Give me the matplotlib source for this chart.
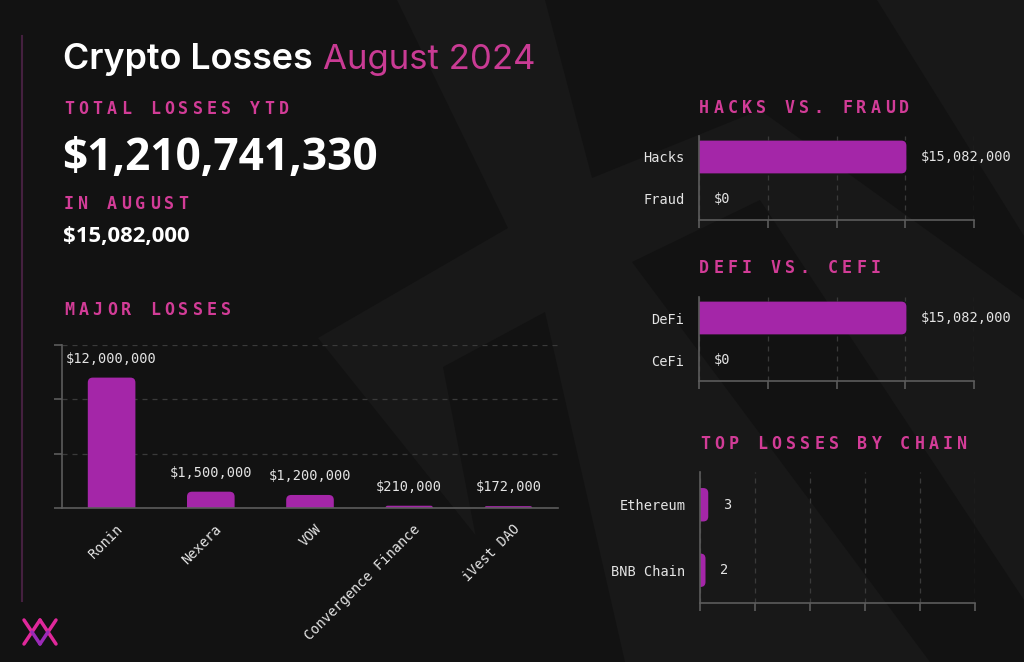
import matplotlib.pyplot as plt
from matplotlib.patches import FancyBboxPatch, Polygon, BoxStyle
from matplotlib.lines import Line2D
from matplotlib.transforms import ScaledTranslation

# headline numbers
ytd_total = "$1,210,741,330"
august_total = "$15,082,000"

# major losses (USD)
major_names = ["Ronin", "Nexera", "VOW", "Convergence Finance", "iVest DAO"]
major_values = [12_000_000, 1_500_000, 1_200_000, 210_000, 172_000]

# hacks vs fraud
type_names = ["Hacks", "Fraud"]
type_values = [15_082_000, 0]

# defi vs cefi
sector_names = ["DeFi", "CeFi"]
sector_values = [15_082_000, 0]

# top losses by chain (number of incidents)
chain_names = ["Ethereum", "BNB Chain"]
chain_counts = [3, 2]

W, H = 1024, 662
BG = '#121212'
SHADE = '#181818'
PINK = '#d23c97'
BAR = '#a426a8'
AXIS = '#5c5c5c'
GRID = '#3a3a3a'
TXT = '#e4e4e4'
MONO = 'DejaVu Sans Mono'


def fx(x):
    return x / W


def fy(y):
    return 1 - y / H


fig = plt.figure(figsize=(W / 100, H / 100), dpi=100, facecolor=BG)

# faint background shapes
for pts, col in [
    ([(397, 0), (1024, 0), (1024, 662), (577, 662), (318, 338), (508, 228)], SHADE),
    ([(443, 367), (545, 312), (625, 662), (500, 662)], BG),
    ([(545, 0), (877, 0), (1024, 236), (1024, 300), (760, 110), (592, 178)], BG),
    ([(632, 262), (760, 200), (1024, 600), (1024, 662), (930, 662)], BG),
]:
    fig.add_artist(Polygon([(fx(x), fy(y)) for x, y in pts], closed=True,
                           facecolor=col, edgecolor='none',
                           transform=fig.transFigure, zorder=-2))

# left accent line
fig.add_artist(Line2D([fx(22), fx(22)], [fy(36), fy(601)], color='#44203f',
                      lw=1.5, transform=fig.transFigure))

# logo
for (x0, y0), (x1, y1), c in [((24, 620), (32, 632), '#e0289b'), ((24, 644), (32, 632), '#e0289b'),
                              ((56, 620), (48, 632), '#e0289b'), ((56, 644), (48, 632), '#e0289b'),
                              ((32, 632), (40, 620), '#e0289b'), ((32, 632), (40, 644), '#9b2ab8'),
                              ((48, 632), (40, 620), '#e0289b'), ((48, 632), (40, 644), '#9b2ab8')]:
    fig.add_artist(Line2D([fx(x0), fx(x1)], [fy(y0), fy(y1)], color=c,
                          lw=2.5, solid_capstyle='round', transform=fig.transFigure))


def spaced(x, y, s, pitch=14.3, size=12):
    # letter-spaced heading, one glyph per slot
    for i, ch in enumerate(s):
        fig.text(fx(x + 5 + i * pitch), fy(y), ch, ha='center', va='center',
                 family=MONO, weight='bold', size=size, color=PINK)


def axes_px(left, top, right, bottom):
    ax = fig.add_axes([fx(left), fy(bottom), (right - left) / W, (bottom - top) / H])
    ax.set_facecolor('none')
    for s in ['top', 'right']:
        ax.spines[s].set_visible(False)
    for s in ['left', 'bottom']:
        ax.spines[s].set_color(AXIS)
        ax.spines[s].set_linewidth(1.2)
    return ax


def round_bars(ax, bars, horizontal=False, r=5):
    (x0, y0), (x1, y1) = ax.transData.transform([(0, 0), (1, 1)])
    ux, uy = abs(x1 - x0), abs(y1 - y0)
    for b in bars:
        x, y, w, h = b.get_x(), b.get_y(), b.get_width(), b.get_height()
        b.set_visible(False)
        if w == 0 or h == 0:
            continue
        if horizontal:
            rr = min(r, w * ux, h * uy / 2)
            x, w = x - rr / ux, w + rr / ux
        else:
            rr = min(r, w * ux / 2, h * uy)
            y, h = y - rr / uy, h + rr / uy
        p = FancyBboxPatch((x, y), w, h,
                           boxstyle=BoxStyle.Round(pad=0, rounding_size=rr / ux),
                           mutation_aspect=ux / uy, facecolor=BAR,
                           edgecolor='none', zorder=2)
        ax.add_patch(p)


# title
t1 = fig.text(fx(63), fy(69.5), "Crypto Losses", family='Inter', weight='semibold',
              size=25.8, color='white', va='baseline', ha='left')
fig.canvas.draw()
bb = t1.get_window_extent()
fig.text((bb.x1 + 10) / W, fy(69.5), "August 2024", family='Inter', weight='normal',
         size=25, color='#c93b94', va='baseline', ha='left')

spaced(64, 108.5, "TOTAL LOSSES YTD")
fig.text(fx(62), fy(170), ytd_total, family='Open Sans', weight='bold', size=31.8,
         color='white', va='baseline')
spaced(64, 203.7, "IN AUGUST")
fig.text(fx(63), fy(241.7), august_total, family='Open Sans', weight='bold', size=15.9,
         color='white', va='baseline')

# major losses
spaced(64, 310, "MAJOR LOSSES")
ax = axes_px(62, 345, 558, 508)
ax.set_xlim(-0.5, len(major_names) - 0.5)
ax.set_ylim(0, 15_000_000)
ax.set_yticks([0, 5_000_000, 10_000_000, 15_000_000])
ax.set_yticklabels([])
ax.yaxis.grid(True, color=GRID, lw=0.9, linestyle=(0, (4, 4)))
ax.set_axisbelow(True)
ax.tick_params(axis='y', length=6, color=AXIS, width=1.2)
bars = ax.bar(range(len(major_names)), major_values, width=0.48, color=BAR)
round_bars(ax, bars)
ax.set_xticks(range(len(major_names)))
ax.set_xticklabels(major_names, rotation=45, ha='right', va='top',
                   rotation_mode='anchor', family=MONO, size=9.8, color=TXT)
ax.tick_params(axis='x', length=0, pad=10)
for lab in ax.get_xticklabels():
    lab.set_transform(lab.get_transform() + ScaledTranslation(0.04, 0, fig.dpi_scale_trans))
for i, v in enumerate(major_values):
    ax.annotate(f"${v:,}", (i, v), xytext=(0, 13.7), textcoords='offset points',
                ha='center', va='center', family=MONO, size=9.8, color=TXT)


def hbar_panel(top, bottom, names, values, xmax, step, height, fmt, left=699, right=974):
    ax = axes_px(left, top, right, bottom)
    ax.set_xlim(0, xmax)
    ax.set_ylim(len(names) - 0.5, -0.5)
    ax.set_xticks(range(0, xmax + 1, step))
    ax.set_xticklabels([])
    ax.xaxis.grid(True, color=GRID, lw=0.9, linestyle=(0, (4, 4)))
    ax.set_axisbelow(True)
    ax.tick_params(axis='x', length=6, color=AXIS, width=1.2)
    bars = ax.barh(range(len(names)), values, height=height, color=BAR)
    round_bars(ax, bars, horizontal=True)
    ax.set_yticks(range(len(names)))
    ax.set_yticklabels(names, family=MONO, size=9.8, color=TXT)
    ax.tick_params(axis='y', length=0, pad=10.5)
    for i, v in enumerate(values):
        ax.annotate(fmt(v), (v, i), xytext=(10.4, 0), textcoords='offset points',
                    ha='left', va='center', family=MONO, size=9.8, color=TXT)
    return ax


spaced(699, 107.8, "HACKS VS. FRAUD")
hbar_panel(136, 220, type_names, type_values, 20_000_000, 5_000_000, 0.78,
           lambda v: f"${v:,}")

spaced(699, 267.8, "DEFI VS. CEFI")
hbar_panel(297, 381, sector_names, sector_values, 20_000_000, 5_000_000, 0.78,
           lambda v: f"${v:,}")

spaced(700, 444.3, "TOP LOSSES BY CHAIN")
hbar_panel(472, 603, chain_names, chain_counts, 100, 20, 0.51,
           lambda v: f"{v}", left=700, right=975)

fig.savefig('out.png', dpi=100, facecolor=BG)
